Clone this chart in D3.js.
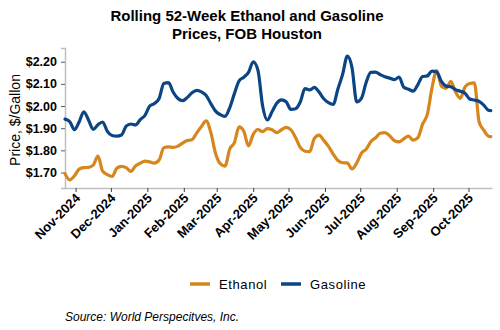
<!DOCTYPE html>
<html><head><meta charset="utf-8">
<script src="https://cdn.jsdelivr.net/npm/d3@7"></script>
<style>body{margin:0;background:#fff}svg{display:block}text{font-family:"Liberation Sans",Arial,sans-serif}</style>
</head><body><svg id="c" width="500" height="330"></svg>
<script>
const dates = ["2024-10-23","2024-10-27","2024-10-31","2024-11-04","2024-11-08","2024-11-12","2024-11-16","2024-11-20","2024-11-24","2024-11-28",
"2024-12-02","2024-12-06","2024-12-10","2024-12-14","2024-12-18","2024-12-22","2024-12-26","2024-12-30",
"2025-01-03","2025-01-07","2025-01-11","2025-01-15","2025-01-19","2025-01-23","2025-01-27","2025-01-31",
"2025-02-04","2025-02-08","2025-02-12","2025-02-16","2025-02-20","2025-02-24","2025-02-28",
"2025-03-04","2025-03-08","2025-03-12","2025-03-16","2025-03-20","2025-03-24","2025-03-28",
"2025-04-01","2025-04-05","2025-04-09","2025-04-13","2025-04-17","2025-04-21","2025-04-25","2025-04-29",
"2025-05-03","2025-05-07","2025-05-11","2025-05-15","2025-05-19","2025-05-23","2025-05-27","2025-05-31",
"2025-06-04","2025-06-08","2025-06-12","2025-06-16","2025-06-20","2025-06-24","2025-06-28",
"2025-07-02","2025-07-06","2025-07-10","2025-07-14","2025-07-18","2025-07-22","2025-07-26","2025-07-30",
"2025-08-03","2025-08-07","2025-08-11","2025-08-15","2025-08-19","2025-08-23","2025-08-27","2025-08-31",
"2025-09-04","2025-09-08","2025-09-12","2025-09-16","2025-09-20","2025-09-24","2025-09-28",
"2025-10-02","2025-10-06","2025-10-10","2025-10-14","2025-10-18","2025-10-20"];
const gasoline = [1.941,1.930,1.893,1.928,1.974,1.937,1.894,1.916,1.928,1.886,
1.867,1.864,1.869,1.909,1.919,1.915,1.939,1.958,2.000,2.012,
2.034,2.102,2.106,2.062,2.034,2.024,2.039,2.060,2.071,2.064,
2.048,2.011,1.977,1.961,1.953,1.992,2.056,2.114,2.130,2.152,
2.200,2.162,2.000,1.937,1.974,2.013,2.028,2.019,1.985,1.988,
2.018,2.079,2.073,2.084,2.063,2.033,2.015,2.007,2.077,2.143,
2.225,2.173,2.019,2.035,2.106,2.152,2.153,2.142,2.132,2.126,
2.119,2.131,2.085,2.076,2.067,2.097,2.133,2.136,2.158,2.154,
2.111,2.090,2.087,2.074,2.067,2.058,2.032,2.027,2.021,2.004,
1.981,1.979];
const ethanol = [1.695,1.667,1.685,1.715,1.722,1.723,1.733,1.774,1.706,1.690,
1.682,1.719,1.728,1.722,1.705,1.730,1.742,1.751,1.748,1.742,
1.756,1.812,1.816,1.813,1.819,1.833,1.844,1.848,1.879,1.908,
1.933,1.880,1.786,1.740,1.729,1.805,1.835,1.906,1.886,1.820,
1.872,1.894,1.884,1.898,1.893,1.880,1.893,1.904,1.893,1.858,
1.813,1.796,1.794,1.854,1.869,1.845,1.818,1.783,1.754,1.744,
1.743,1.716,1.743,1.787,1.805,1.839,1.857,1.877,1.880,1.866,
1.844,1.838,1.852,1.864,1.846,1.857,1.918,1.962,2.082,2.160,
2.089,2.080,2.111,2.063,2.035,2.085,2.102,2.105,1.929,1.891,
1.864,1.862];
const yTicks = [1.70,1.80,1.90,2.00,2.10,2.20];
const xTickLabels = ["Nov-2024","Dec-2024","Jan-2025","Feb-2025","Mar-2025","Apr-2025","May-2025","Jun-2025","Jul-2025","Aug-2025","Sep-2025","Oct-2025"];
const seriesNames = ["Ethanol","Gasoline"];
const colors = {Ethanol:"#D6861C", Gasoline:"#0B4584"};

const svg = d3.select("#c");
const parse = d3.timeParse("%Y-%m-%d");
const fmtTick = d3.timeFormat("%b-%Y");
const D = dates.map(parse);
const x = d3.scaleTime().domain([parse("2024-10-23"), parse("2025-10-21")]).range([65, 492]);
const y = d3.scaleLinear().domain([1.63, 2.262]).range([188, 48]);

// title
svg.append("text").attr("x",247).attr("y",21).attr("text-anchor","middle")
  .style("font-size","15px").style("font-weight","bold").text("Rolling 52-Week Ethanol and Gasoline");
svg.append("text").attr("x",247).attr("y",39).attr("text-anchor","middle")
  .style("font-size","15px").style("font-weight","bold").text("Prices, FOB Houston");

// y axis
const ya = svg.append("g").attr("transform","translate(65,0)")
  .call(d3.axisLeft(y).tickValues(yTicks).tickFormat(d=>"$"+d.toFixed(2)).tickSize(4).tickPadding(4));
ya.select(".domain").attr("stroke","#bfbfbf").attr("stroke-width",1.5);
ya.selectAll(".tick line").attr("stroke","#595959");
ya.selectAll(".tick text").style("font-size","12.5px").style("font-weight","bold").attr("fill","#000")
  .style("font-family","'Liberation Sans',Arial,sans-serif");

svg.append("text").attr("transform","translate(20,120) rotate(-90)").attr("text-anchor","middle")
  .style("font-size","14px").text("Price, $/Gallon");

// x axis
const monthTicks = xTickLabels.map(s => d3.timeParse("%b-%Y")(s));
const xa = svg.append("g").attr("transform","translate(0,188)")
  .call(d3.axisBottom(x).tickValues(monthTicks).tickFormat(fmtTick).tickSize(4).tickSizeOuter(0));
xa.select(".domain").attr("stroke","#bfbfbf").attr("stroke-width",1.5);
xa.selectAll(".tick line").attr("stroke","#404040");
xa.selectAll(".tick text").style("font-size","13px").style("font-weight","bold").attr("fill","#000")
  .style("font-family","'Liberation Sans',Arial,sans-serif")
  .attr("text-anchor","end").attr("dy",null).attr("y",null)
  .attr("transform","translate(5,11) rotate(-45)");

// lines
const line = d3.line().x((d,i)=>x(D[i])).y(d=>y(d)).curve(d3.curveMonotoneX);
const data = {Ethanol: ethanol, Gasoline: gasoline};
["Ethanol","Gasoline"].forEach(n=>{
  svg.append("path").attr("d", line(data[n])).attr("fill","none")
    .attr("stroke", colors[n]).attr("stroke-width",3.2).attr("stroke-linejoin","round").attr("stroke-linecap","round");
});

// legend
const lx = [190, 281];
seriesNames.forEach((n,i)=>{
  svg.append("line").attr("x1",lx[i]).attr("x2",lx[i]+20).attr("y1",284).attr("y2",284)
    .attr("stroke",colors[n]).attr("stroke-width",3.5);
  svg.append("text").attr("x",lx[i]+29).attr("y",289).style("font-size","13px")
    .style("letter-spacing","0.6px").text(n);
});

svg.append("text").attr("x",65).attr("y",321).style("font-size","12px").style("font-style","italic")
  .text("Source: World Perspecitves, Inc.");
</script></body></html>
